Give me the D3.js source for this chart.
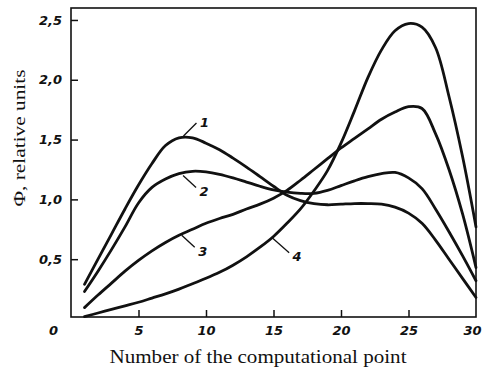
<!DOCTYPE html>
<html>
<head>
<meta charset="utf-8">
<script src="https://cdn.jsdelivr.net/npm/d3@7"></script>
<style>
  html, body { margin: 0; padding: 0; background: #fff; }
  .tick-label { font-family: "DejaVu Sans", sans-serif; font-style: italic; font-weight: bold; font-size: 13px; fill: #111; }
  .axis-title { font-family: "Liberation Serif", "DejaVu Serif", serif; fill: #111; }
</style>
</head>
<body>
<div id="chart"></div>
<script>
// computational point numbers (x)
const pointNumbers = [1, 2, 3, 4, 5, 6, 7, 8, 9, 10, 11, 12, 13, 14, 15,
                      16, 17, 18, 19, 20, 21, 22, 23, 24, 25, 26, 27, 28, 29, 30];

// Φ, relative units
const curve1 = [0.29, 0.50, 0.71, 0.92, 1.12, 1.30, 1.45, 1.515, 1.515, 1.47, 1.415, 1.345, 1.27, 1.19, 1.11,
                1.035, 0.99, 0.965, 0.955, 0.96, 0.965, 0.965, 0.96, 0.935, 0.885, 0.80, 0.66, 0.50, 0.34, 0.18];
const curve2 = [0.23, 0.40, 0.58, 0.77, 0.97, 1.10, 1.17, 1.215, 1.235, 1.23, 1.21, 1.18, 1.145, 1.11, 1.08,
                1.06, 1.05, 1.05, 1.075, 1.115, 1.155, 1.19, 1.215, 1.225, 1.18, 1.09, 0.92, 0.73, 0.53, 0.32];
const curve3 = [0.095, 0.20, 0.30, 0.40, 0.49, 0.57, 0.64, 0.70, 0.75, 0.80, 0.84, 0.875, 0.92, 0.96, 1.01,
                1.075, 1.16, 1.25, 1.34, 1.43, 1.51, 1.59, 1.67, 1.73, 1.775, 1.76, 1.55, 1.25, 0.88, 0.43];
const curve4 = [0.02, 0.05, 0.08, 0.11, 0.14, 0.175, 0.21, 0.25, 0.295, 0.34, 0.39, 0.45, 0.52, 0.60, 0.69,
                0.80, 0.92, 1.07, 1.24, 1.47, 1.74, 2.02, 2.25, 2.41, 2.47, 2.44, 2.27, 1.86, 1.36, 0.77];

const seriesNames = ["1", "2", "3", "4"];
const seriesValues = [curve1, curve2, curve3, curve4];

const xTicks = [0, 5, 10, 15, 20, 25, 30];
const yTicks = [0.5, 1.0, 1.5, 2.0, 2.5];

// curve label anchors (data units)
const labelAnchorX = [8.33, 8.3, 8.2, 14.9];
const labelAnchorY = [1.53, 1.2, 0.70, 0.68];

const settings = {
  width: 483,
  height: 373,
  left: 71,
  right: 476,
  top: 8,
  bottom: 317
};

const svg = d3.select("#chart")
  .append("svg")
  .attr("width", settings.width)
  .attr("height", settings.height);

const x = d3.scaleLinear().domain([0, 30]).range([settings.left, settings.right]);
const y = d3.scaleLinear().domain([0, 2.6]).range([319, settings.top]);

// frame
svg.append("rect")
  .attr("x", settings.left)
  .attr("y", settings.top)
  .attr("width", settings.right - settings.left)
  .attr("height", settings.bottom - settings.top)
  .attr("fill", "none")
  .attr("stroke", "#111")
  .attr("stroke-width", 1.6);

// x axis, ticks pointing inwards
const xAxis = svg.append("g")
  .attr("transform", `translate(0,${settings.bottom})`)
  .call(d3.axisBottom(x).tickValues(xTicks).tickSizeInner(-7).tickSizeOuter(0).tickPadding(9).tickFormat(d3.format("d")));
xAxis.select(".domain").remove();
xAxis.selectAll(".tick line").attr("stroke", "#111").attr("stroke-width", 1.5)
  .filter(d => d === 0 || d === 30).remove();
xAxis.selectAll(".tick text").attr("class", "tick-label").attr("font-size", null).attr("font-family", null)
  .attr("dy", "0.9em").attr("y", 6)
  .attr("dx", d => d === 0 ? -18 : d === 30 ? -4 : 0);

// y axis
const yAxis = svg.append("g")
  .attr("transform", `translate(${settings.left},0)`)
  .call(d3.axisLeft(y).tickValues(yTicks).tickSizeInner(-7).tickSizeOuter(0).tickPadding(9)
    .tickFormat(d => d3.format(".1f")(d).replace(".", ",")));
yAxis.select(".domain").remove();
yAxis.selectAll(".tick line").attr("stroke", "#111").attr("stroke-width", 1.5);
yAxis.selectAll(".tick text").attr("class", "tick-label").attr("font-size", null).attr("font-family", null)
  .attr("x", -9);

// curves
const line = d3.line()
  .x((d, i) => x(pointNumbers[i]))
  .y(d => y(d))
  .curve(d3.curveCatmullRom.alpha(0.5));

svg.append("g")
  .selectAll("path")
  .data(seriesValues)
  .join("path")
  .attr("d", line)
  .attr("fill", "none")
  .attr("stroke", "#111")
  .attr("stroke-width", 2.8)
  .attr("stroke-linejoin", "round")
  .attr("stroke-linecap", "round");

// curve labels with leader lines
const leaderDx = [13, 13, 13, 17];
const leaderDy = [-13, 12, 12, 15];
const labels = svg.append("g")
  .selectAll("g")
  .data(seriesNames)
  .join("g")
  .attr("transform", (d, i) => `translate(${x(labelAnchorX[i])},${y(labelAnchorY[i])})`);

labels.append("line")
  .attr("x1", 0).attr("y1", 0)
  .attr("x2", (d, i) => leaderDx[i])
  .attr("y2", (d, i) => leaderDy[i])
  .attr("stroke", "#111")
  .attr("stroke-width", 1.3);

labels.append("text")
  .attr("class", "tick-label")
  .attr("x", (d, i) => leaderDx[i] + 8)
  .attr("y", (d, i) => leaderDy[i] + (leaderDy[i] < 0 ? -1 : 4))
  .attr("text-anchor", "middle")
  .attr("dy", "0.35em")
  .text(d => d);

// axis titles
svg.append("text")
  .attr("class", "axis-title")
  .attr("x", 258)
  .attr("y", 363)
  .attr("text-anchor", "middle")
  .attr("font-size", 18)
  .attr("textLength", 297)
  .attr("lengthAdjust", "spacingAndGlyphs")
  .text("Number of the computational point");

svg.append("text")
  .attr("class", "axis-title")
  .attr("transform", "translate(25,138) rotate(-90)")
  .attr("text-anchor", "middle")
  .attr("font-size", 17)
  .attr("textLength", 137)
  .attr("lengthAdjust", "spacingAndGlyphs")
  .text("Φ, relative units");
</script>
</body>
</html>
